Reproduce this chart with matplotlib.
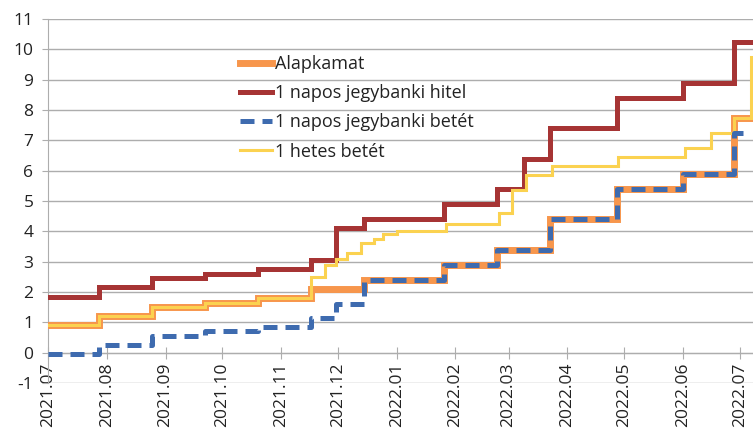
import matplotlib
matplotlib.use('Agg')
import matplotlib.pyplot as plt
import matplotlib.dates as mdates
import pandas as pd

plt.rcParams['font.family'] = ['Open Sans', 'DejaVu Sans']
plt.rcParams['axes.unicode_minus'] = False

# ---- data -------------------------------------------------------------
start_date = '2021-07-01'
end_date = '2022-07-08'

base_dates = ['2021-07-01', '2021-07-28', '2021-08-25', '2021-09-22', '2021-10-20',
              '2021-11-17', '2021-12-15', '2022-01-26', '2022-02-23', '2022-03-23',
              '2022-04-27', '2022-06-01', '2022-06-28']
base_vals = [0.9, 1.2, 1.5, 1.65, 1.8, 2.1, 2.4, 2.9, 3.4, 4.4, 5.4, 5.9, 7.75]

lend_dates = ['2021-07-01', '2021-07-28', '2021-08-25', '2021-09-22', '2021-10-20',
              '2021-11-17', '2021-11-30', '2021-12-15', '2022-01-26', '2022-02-23',
              '2022-03-09', '2022-03-23', '2022-04-27', '2022-06-01', '2022-06-28']
lend_vals = [1.85, 2.15, 2.45, 2.6, 2.75, 3.05, 4.1, 4.4, 4.9, 5.4, 6.4, 7.4, 8.4, 8.9, 10.25]

dep_dates = ['2021-07-01', '2021-07-28', '2021-08-25', '2021-09-22', '2021-10-20',
             '2021-11-17', '2021-11-30', '2021-12-15', '2022-01-26', '2022-02-23',
             '2022-03-23', '2022-04-27', '2022-06-01', '2022-06-28']
dep_vals = [-0.05, 0.25, 0.55, 0.7, 0.85, 1.15, 1.6, 2.4, 2.9, 3.4, 4.4, 5.4, 5.9, 7.25]
dep_end = '2022-07-06'

week_dates = ['2021-07-01', '2021-07-28', '2021-08-25', '2021-09-22', '2021-10-20',
              '2021-11-17', '2021-11-24', '2021-11-30', '2021-12-06', '2021-12-13',
              '2021-12-20', '2021-12-25', '2022-01-01', '2022-01-27', '2022-02-24',
              '2022-03-03', '2022-03-10', '2022-03-24', '2022-04-28', '2022-06-02',
              '2022-06-16', '2022-06-28', '2022-07-07']
week_vals = [0.9, 1.2, 1.5, 1.65, 1.8, 2.5, 2.9, 3.1, 3.3, 3.6, 3.75, 3.9, 4.0, 4.25,
             4.6, 5.35, 5.85, 6.15, 6.45, 6.75, 7.25, 7.75, 9.75]

labels = ['Alapkamat', '1 napos jegybanki hitel', '1 napos jegybanki betét', '1 hetes betét']

# ---- styles -----------------------------------------------------------
c_orange = '#F7964C'
c_red = '#A63434'
c_blue = '#3E6BAF'
c_yellow = '#FBD250'
c_grid = '#ADADAD'
c_text = '#222222'


def steps(dates, vals, end):
    x = pd.to_datetime(list(dates) + [end])
    y = list(vals) + [vals[-1]]
    return x, y


fig = plt.figure(figsize=(7.53, 4.32), dpi=100)
ax = fig.add_axes([48 / 753, 1 - 383 / 432, 1 - 48 / 753, (383 - 19) / 432])

x, y = steps(base_dates, base_vals, end_date)
ax.plot(x, y, drawstyle='steps-post', color=c_orange, lw=5.0,
        solid_joinstyle='miter', label=labels[0], zorder=3)
x, y = steps(lend_dates, lend_vals, end_date)
ax.plot(x, y, drawstyle='steps-post', color=c_red, lw=3.6,
        solid_joinstyle='miter', label=labels[1], zorder=4)
x, y = steps(dep_dates, dep_vals, dep_end)
ax.plot(x, y, drawstyle='steps-post', color=c_blue, lw=3.6, dashes=(2.8, 1.6),
        label=labels[2], zorder=6)
x, y = steps(week_dates, week_vals, end_date)
ax.plot(x, y, drawstyle='steps-post', color=c_yellow, lw=2.2,
        solid_joinstyle='miter', label=labels[3], zorder=5)

ax.set_xlim(pd.Timestamp(start_date), pd.Timestamp(end_date))
ax.set_ylim(-1, 11)
ax.set_yticks(range(-1, 12))
ax.yaxis.grid(True, color=c_grid, lw=1.0)
ax.set_axisbelow(True)

for s in ['top', 'right']:
    ax.spines[s].set_visible(False)
ax.spines['bottom'].set_position(('data', 0))
ax.spines['bottom'].set_color(c_grid)
ax.spines['left'].set_color(c_grid)

ax.xaxis.set_major_locator(mdates.MonthLocator())
ax.xaxis.set_major_formatter(mdates.DateFormatter('%Y.%m'))
ax.tick_params(axis='x', direction='inout', length=8, color=c_grid, labelsize=12.5,
               labelcolor=c_text, labelrotation=90, pad=3)
ax.tick_params(axis='y', direction='out', length=4.5, color=c_grid, labelsize=12.5,
               labelcolor=c_text, pad=6)

leg = ax.legend(loc='upper left', bbox_to_anchor=(240 / 753, 1 - 55 / 432),
                bbox_transform=fig.transFigure, frameon=False, fontsize=13,
                handlelength=1.75, handletextpad=0.2, labelspacing=0.62,
                borderpad=0, borderaxespad=0)
for t in leg.get_texts():
    t.set_color(c_text)

fig.savefig('out.png', dpi=100)
